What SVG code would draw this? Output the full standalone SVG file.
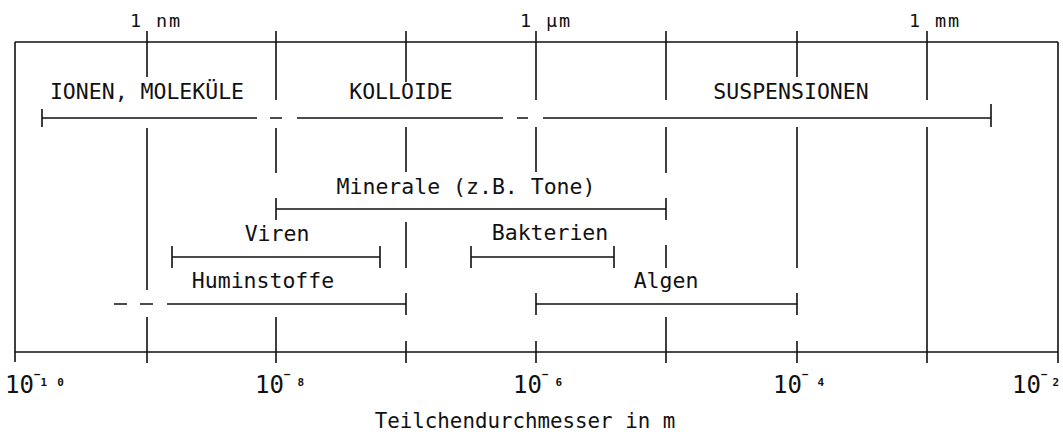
<svg xmlns="http://www.w3.org/2000/svg" width="1063" height="434" viewBox="0 0 1063 434">
  <style>
    .ln { stroke: #111; stroke-width: 1.6; fill: none; }
    .lbl { font-family: "DejaVu Sans Mono", "Liberation Mono", monospace; font-size: 21.5px; fill: #111; }
    .mid { text-anchor: middle; }
    .top { font-size: 18.5px; letter-spacing: 1.9px; }
    .dec { font-size: 24px; }
    .sup { font-size: 11px; font-weight: bold; }
    .ttl { font-size: 20.8px; }
  </style>
  <rect width="1063" height="434" fill="#fff"/>

  <!-- frame and logarithmic size axis -->
  <g id="axis">
    <path class="ln" d="M15 42H1058 M15 42V362 M1058 42V363 M15 352H1058"/>
    <text class="lbl top mid" x="156" y="27">1 nm</text>
    <text class="lbl top mid" x="546" y="27">1 µm</text>
    <text class="lbl top mid" x="935" y="27">1 mm</text>
    <text class="lbl dec" x="5" y="393">10<tspan class="sup" dy="-15">−</tspan><tspan class="sup" dy="7.5">1</tspan><tspan class="sup" dx="10">0</tspan></text>
    <text class="lbl dec" x="255" y="393">10<tspan class="sup" dy="-15">−</tspan><tspan class="sup" dx="7" dy="7.5">8</tspan></text>
    <text class="lbl dec" x="513" y="393">10<tspan class="sup" dy="-15">−</tspan><tspan class="sup" dx="7" dy="7.5">6</tspan></text>
    <text class="lbl dec" x="773" y="393">10<tspan class="sup" dy="-15">−</tspan><tspan class="sup" dx="9" dy="7.5">4</tspan></text>
    <text class="lbl dec" x="1012" y="393">10<tspan class="sup" dy="-15">−</tspan><tspan class="sup" dx="5" dy="7.5">2</tspan></text>
    <text class="lbl ttl mid" x="525" y="428">Teilchendurchmesser in m</text>
  </g>

  <!-- half-decade grid lines, broken where labels and bars pass -->
  <g id="grid">
    <path class="ln" d="M147 31V77 M147 128V290 M147 317V363"/>
    <path class="ln" d="M276 31V100 M276 128V173 M276 317V363"/>
    <path class="ln" d="M406 31V82 M406 127V172 M406 222V268 M406 341V363"/>
    <path class="ln" d="M536 31V100 M536 127V172 M536 341V363"/>
    <path class="ln" d="M666 31V100 M666 127V173 M666 245V268 M666 317V363"/>
    <path class="ln" d="M797 31V77 M797 127V268 M797 341V363"/>
    <path class="ln" d="M927 31V100 M927 127V363"/>
  </g>

  <!-- size classes -->
  <g id="classes">
    <text class="lbl mid" x="147" y="99">IONEN, MOLEKÜLE</text>
    <text class="lbl mid" x="401" y="99">KOLLOIDE</text>
    <text class="lbl mid" x="791" y="99">SUSPENSIONEN</text>
    <path class="ln" d="M42 118H257 M270 118H282 M297 118H503 M517 118H528 M543 118H991 M42 109V127 M991 104V127"/>
  </g>

  <g id="minerale">
    <text class="lbl mid" x="466" y="194">Minerale (z.B. Tone)</text>
    <path class="ln" d="M276 209H666 M276 198V220 M666 198V220"/>
  </g>

  <g id="viren">
    <text class="lbl mid" x="277" y="241">Viren</text>
    <path class="ln" d="M172 257H380 M172 246V268 M380 246V268"/>
  </g>

  <g id="bakterien">
    <text class="lbl mid" x="550" y="240">Bakterien</text>
    <path class="ln" d="M471 257H614 M471 246V268 M614 246V268"/>
  </g>

  <g id="huminstoffe">
    <text class="lbl mid" x="263" y="288">Huminstoffe</text>
    <path class="ln" d="M114 304H127 M140 304H153 M167 304H406 M406 293V315"/>
  </g>

  <g id="algen">
    <text class="lbl mid" x="666" y="288">Algen</text>
    <path class="ln" d="M536 304H797 M536 293V315 M797 293V315"/>
  </g>
</svg>
